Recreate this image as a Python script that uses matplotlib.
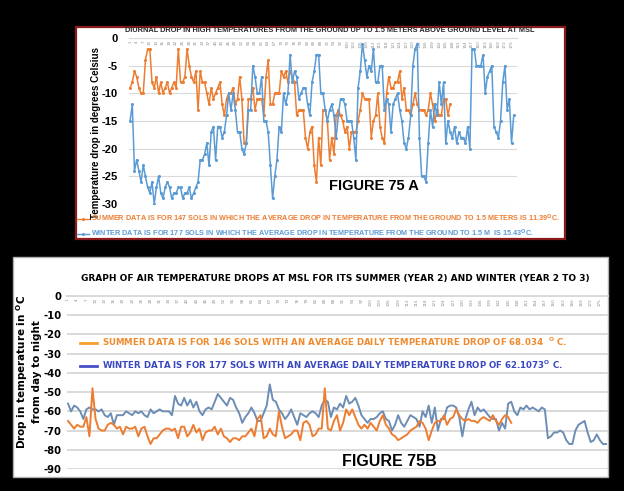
import numpy as np
import matplotlib
matplotlib.use('Agg')
import matplotlib.pyplot as plt
from matplotlib.lines import Line2D
from matplotlib.patches import Rectangle

# ---------------- DATA ----------------
# Figure 75A: drop in high temperature from ground to 1.5 m (deg C)
top_summer = [-9, -8, -6, -7, -9, -10, -10, -4, -2, -2, -8, -9, -7, -10, -8, -10, -9, -8, -10, -9,
              -8, -9, -2, -8, -8, -7, -2, -5, -7, -8, -6, -13, -6, -8, -8, -10, -12, -9, -11, -10,
              -9, -8, -12,
              -14, -11, -10, -10, -9, -12, -11, -7, -11, -19, -19, -11, -11, -9, -13, -11, -11, -11,
              -14, -7, -4, -12, -12, -10, -10, -10, -6, -7, -6, -8, -6, -7, -8, -14, -13, -13,
              -13, -18, -20, -17, -16, -23, -26, -18, -23, -13,
              -13, -15, -22, -18, -21, -14, -13, -14, -15, -17,
              -16, -20, -17, -17, -17, -15, -13, -10, -11, -11,
              -11, -18, -15, -14, -10, -16, -18, -19, -10, -7,
              -9, -9, -8, -8, -6, -11, -9, -13, -13, -14,
              -12, -10, -12, -13, -13, -13, -14, -13, -10, -12,
              -15, -13, -14, -14, -11, -11, -14, -12]

top_winter = [-15, -12, -24, -22, -24, -26, -23, -25, -27, -28, -26, -30, -27, -25, -28, -29, -27, -26,
              -27, -29, -28, -28, -27, -27, -29, -28, -28, -27, -29, -28, -27, -26, -22, -22, -21, -19,
              -23, -17, -16, -22, -16, -16, -18,
              -17, -14, -10, -13, -10, -13, -17, -17, -20, -21, -19, -13, -13, -5, -7, -10, -10, -7,
              -15, -15, -17, -23, -29, -25, -22, -16, -17, -10, -12, -10, -3, -8, -6, -7, -11, -10,
              -9, -9, -12, -14, -8, -6, -3, -3, -10,
              -10, -13, -15, -13, -12, -14, -18, -14, -11, -11, -12, -15, -15, -15, -18, -22, -9, -6, -1,
              -4, -7, -5, -6, -2, -8, -8, -5, -5, -13, -11, -12, -17, -12, -11, -10, -13, -15, -19, -20,
              -18, -14, -5, -2, -1,
              -18, -25, -25, -26, -19, -13, -16, -12, -14, -8, -12, -8, -19, -15, -17, -18, -16, -19,
              -17, -18, -18, -19, -16, -20,
              -2, -2, -5, -5, -5, -3, -10, -7, -6, -5, -16, -17, -18, -15, -8, -5, -13, -11, -19, -14]

# Figure 75B: day-to-night air temperature drop (deg C)
bot_summer = [-65, -67, -69, -67, -68, -68, -63, -73, -48, -64, -69, -70, -70, -67, -66, -67, -69, -68,
              -72, -68, -69, -69, -68, -73, -69, -68, -73, -77, -74, -74, -72, -70, -69, -69, -70, -69,
              -74, -68, -68, -73,
              -71, -67, -71, -69, -75, -71, -70,
              -70, -68, -72, -69, -73, -74, -76, -74, -74, -75, -73, -73, -71, -69, -73, -64, -62, -74,
              -73, -69, -72, -73, -60, -68, -74, -73, -72, -70, -70, -75, -66, -65, -67, -73, -72, -69,
              -69,
              -48,
              -69, -70, -65, -62, -70, -66, -59, -62, -59, -63,
              -67, -69, -67, -69, -66, -68, -70, -65, -62, -67,
              -69, -72, -73, -75, -74, -73, -72, -70, -69, -68,
              -65, -66, -69, -75, -70, -66, -65, -65, -62, -67,
              -64, -63, -59, -62, -64, -65, -64, -65, -65, -66,
              -64, -63, -64, -65, -62, -65, -67, -64, -62, -63,
              -66]

bot_winter = [-56, -60, -57, -58, -60, -64, -59, -58, -59, -59,
              -60, -59, -62, -63, -61, -67, -62, -62, -62, -60,
              -61, -62, -60, -61, -60, -62, -63, -59, -61, -60,
              -59, -60, -60, -60, -62, -52, -56, -57, -53, -57,
              -54, -58, -55, -60, -62, -59, -58, -59, -55, -51,
              -53, -55, -57, -53, -54, -58, -61, -66, -63, -61,
              -58, -61, -65, -65, -61, -57, -46, -54, -55, -59,
              -61, -64, -62, -59, -63, -67, -61, -62, -63, -61,
              -60, -61, -63, -57, -54, -55,
              -63, -58, -59, -56, -58, -52, -56, -55, -53, -57,
              -62, -64, -66, -64, -64, -63, -61, -60, -64, -65,
              -70, -67, -62, -66, -68, -65, -62, -63, -64, -68,
              -60, -63, -57, -66, -58, -70, -64, -64, -58, -57,
              -57, -58, -63, -73, -64, -59, -55, -62, -58, -60,
              -59, -61, -63, -64, -64, -70, -66, -69, -56, -55,
              -60, -62, -58, -59, -57, -59, -58, -59, -60, -58,
              -59, -74, -73, -71, -71, -70, -71, -75, -77, -77,
              -70, -67, -66, -65, -71, -76, -75, -72, -75, -77, -77]

tick_days = list(range(1, 176, 3))

top_title = "DIURNAL DROP IN HIGH TEMPERATURES FROM THE GROUND UP TO 1.5 METERS ABOVE GROUND LEVEL AT MSL"
top_ylabel = "Temperature drop in degrees Celsius"
top_leg = ["SUMMER DATA IS FOR 147 SOLS IN WHICH THE AVERAGE DROP IN TEMPERATURE FROM THE GROUND TO 1.5 METERS IS 11.39$^{\\mathbf{O}}$C.",
           "WINTER DATA IS FOR 177 SOLS IN WHICH THE AVERAGE DROP IN TEMPERATURE FROM THE GROUND TO 1.5 M  IS 15.43$^{\\mathbf{O}}$C."]
bot_title = "GRAPH OF AIR TEMPERATURE DROPS AT MSL FOR ITS SUMMER (YEAR 2) AND WINTER (YEAR 2 TO 3)"
bot_ylabel = "Drop in temperature in $^{\\mathbf{O}}$C\nfrom day to night"
bot_leg = ["SUMMER DATA IS FOR 146 SOLS WITH AN AVERAGE DAILY TEMPERATURE DROP OF 68.034  $^{\\mathbf{O}}$ C.",
           "WINTER DATA IS FOR 177 SOLS WITH AN AVERAGE DAILY TEMPERATURE DROP OF 62.1073$^{\\mathbf{O}}$ C."]

# ---------------- FIGURE ----------------
plt.rcParams['font.family'] = ['DejaVu Sans']
W, H = 624, 491
fig = plt.figure(figsize=(W / 100, H / 100), dpi=100, facecolor='black')


def fx(px):
    return px / W


def fy(py):
    return 1 - py / H


# panel backgrounds
fig.patches.append(Rectangle((fx(76), fy(239)), (565 - 76) / W, (239 - 27) / H,
                             transform=fig.transFigure, facecolor='white',
                             edgecolor='#8b1a1a', lw=1.6, zorder=-5))
fig.patches.append(Rectangle((fx(13), fy(477)), (608 - 13) / W, (477 - 257) / H,
                             transform=fig.transFigure, facecolor='white',
                             edgecolor='#b0b0b0', lw=1.0, zorder=-5))

ORANGE = '#ED7D31'
BLUE = '#5B9BD5'

# ---------- top chart ----------
ax1 = fig.add_axes([fx(129), fy(204), (517 - 129) / W, (204 - 38) / H])
ax1.set_facecolor('none')
xs = np.arange(1, len(top_summer) + 1)
xw = np.arange(1, len(top_winter) + 1)
ax1.plot(xs, top_summer, color=ORANGE, lw=1.1, marker='o', ms=2.2, mew=0, zorder=3)
ax1.plot(xw, top_winter, color=BLUE, lw=1.1, marker='o', ms=2.2, mew=0, zorder=3)
ax1.set_xlim(0.5, 177.5)
ax1.set_ylim(-30, 0)
yt = list(range(-30, 1, 5))
ax1.set_yticks(yt)
ax1.set_yticklabels([str(v) for v in yt], fontsize=8, fontweight='bold',
                    family='Liberation Sans')
ax1.grid(axis='y', color='#d9d9d9', lw=0.8)
ax1.set_axisbelow(True)
for s in ax1.spines.values():
    s.set_visible(False)
ax1.spines['top'].set_visible(True)
ax1.spines['top'].set_color('#d9d9d9')
ax1.tick_params(axis='y', length=0, pad=8)
ax1.xaxis.tick_top()
ax1.set_xticks(tick_days)
ax1.set_xticklabels([str(d) for d in tick_days], rotation=90, fontsize=3.0, color='#8c8c8c')
for lbl in ax1.get_xticklabels():
    lbl.set_va('top')
ax1.tick_params(axis='x', length=0, pad=-1.5)

fig.text(fx(330), fy(30), top_title, ha='center', va='center', fontsize=5.3,
         fontweight='bold', color='#262626', family='Liberation Sans')
fig.text(fx(96), fy(133), top_ylabel, rotation=90, ha='center', va='center',
         fontsize=7, fontweight='bold', family='Liberation Sans')
fig.text(fx(374), fy(186), 'FIGURE 75 A', ha='center', va='center', fontsize=10.5,
         fontweight='bold', family='Liberation Sans')

h1 = Line2D([], [], color=ORANGE, lw=1.0, marker='o', ms=2.2, mew=0)
h2 = Line2D([], [], color=BLUE, lw=1.0, marker='o', ms=2.2, mew=0)
fig.legend([h1, h2], top_leg, loc='upper left', bbox_to_anchor=(fx(77), fy(213)),
           frameon=False, prop={'family': 'Liberation Sans', 'weight': 'bold', 'size': 5.2},
           handlelength=1.6, handletextpad=0.3, labelspacing=0.45, borderaxespad=0,
           borderpad=0, labelcolor=[ORANGE, BLUE])

# ---------- bottom chart ----------
ax2 = fig.add_axes([fx(66.5), fy(469), 541 / W, (469 - 296) / H])
ax2.set_facecolor('none')
xbs = np.arange(1, len(bot_summer) + 1)
xbw = np.arange(1, len(bot_winter) + 1)
ax2.plot(xbw, bot_winter, color='#6d8db5', lw=1.4, zorder=3)
ax2.plot(xbs, bot_summer, color=ORANGE, lw=1.4, zorder=4)
ax2.set_xlim(0.5, 177.5)
ax2.set_ylim(-90, 0)
yt2 = list(range(-90, 1, 10))
ax2.set_yticks(yt2)
ax2.set_yticklabels([str(v) for v in yt2], fontsize=7.2, fontweight='bold')
ax2.grid(axis='y', color='#d9d9d9', lw=1.4)
ax2.set_axisbelow(True)
for s in ax2.spines.values():
    s.set_visible(False)
ax2.spines['top'].set_visible(True)
ax2.spines['top'].set_color('#d9d9d9')
ax2.spines['top'].set_linewidth(1.4)
ax2.tick_params(axis='y', length=0, pad=3.5)
ax2.xaxis.tick_top()
ax2.set_xticks(tick_days)
ax2.set_xticklabels([str(d) for d in tick_days], rotation=90, fontsize=3.0, color='#8c8c8c')
for lbl in ax2.get_xticklabels():
    lbl.set_va('top')
ax2.tick_params(axis='x', length=0, pad=-1.5)

fig.text(fx(335), fy(279), bot_title, ha='center', va='center', fontsize=6.5,
         fontweight='bold', color='black')
fig.text(fx(28), fy(372), bot_ylabel, rotation=90, ha='center', va='center',
         multialignment='center', fontsize=7.5, fontweight='bold', linespacing=1.3)
fig.text(fx(389), fy(462), 'FIGURE 75B', ha='center', va='center', fontsize=11.5,
         fontweight='bold', family='Liberation Sans')

g1 = Line2D([], [], color='#f5a030', lw=2.0)
g2 = Line2D([], [], color='#4650c8', lw=2.0)
fig.legend([g1, g2], bot_leg, loc='upper left', bbox_to_anchor=(fx(80), fy(336)),
           frameon=False, prop={'weight': 'bold', 'size': 6.2},
           handlelength=2.0, handletextpad=0.5, labelspacing=1.15, borderaxespad=0,
           borderpad=0, labelcolor=['#f08a2e', '#3a48c0'])

fig.savefig('out.png', dpi=100, facecolor='black')
